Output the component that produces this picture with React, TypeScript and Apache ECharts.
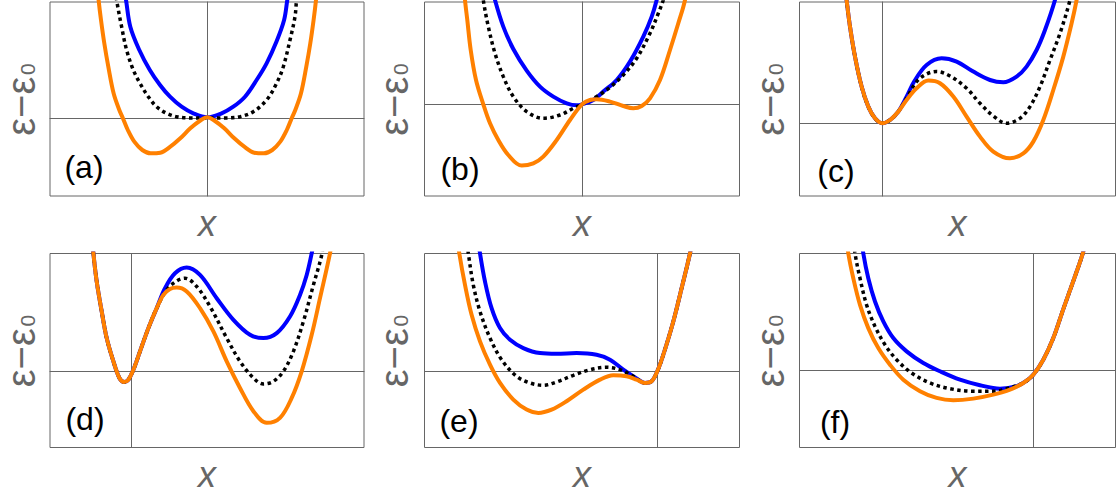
import React, { useEffect, useRef } from "react";
import * as echarts from "echarts";

// Panel labels
const panelLabels = ["(a)", "(b)", "(c)", "(d)", "(e)", "(f)"];

// Axis ranges (arbitrary units, origin at the crossing of the reference lines)
const xMin = [-15.73, -15.75, -8.28, -8.17, -23.28, -23.38];
const xMax = [15.67, 15.75, 23.32, 23.23, 8.22, 8.22];
const yMin = [-7.8, -9.17, -7.27, -7.67, -7.67, -7.77];
const yMax = [11.6, 10.23, 12.13, 11.78, 11.78, 11.68];

// (a)
const aBlue = [[-8.45, 13.5], [-8.13, 11.8], [-7.7, 9.13], [-6.8, 6.8], [-5.75, 4.8], [-4.73, 3.3], [-3.73, 2.13], [-2.57, 1.13], [-1.4, 0.47], [0, 0.07], [1.43, 0.47], [2.6, 1.13], [3.77, 2.13], [4.93, 3.8], [5.93, 5.47], [6.9, 7.6], [7.68, 9.8], [8.0, 11.8], [8.28, 13.5]];
const aBlack = [[-9.3, 13.5], [-9.07, 11.8], [-8.57, 9.13], [-8.07, 6.8], [-7.4, 4.8], [-6.73, 3.47], [-5.9, 2.13], [-5.07, 1.13], [-4.07, 0.47], [-3.07, 0.13], [-1.73, 0.01], [0, 0], [1.93, 0.01], [3.27, 0.13], [4.6, 0.63], [5.93, 1.8], [6.93, 3.47], [7.6, 5.13], [8.27, 7.8], [8.77, 10.13], [8.93, 11.8], [9.2, 13.5]];
const aOrange = [[-11.05, 13.8], [-10.87, 11.8], [-10.63, 9.8], [-10.3, 7.47], [-9.9, 5.13], [-9.37, 2.47], [-8.8, 0.8], [-8.45, 0], [-7.95, -1.2], [-7.3, -2.37], [-6.5, -3.2], [-5.67, -3.53], [-4.7, -3.47], [-3.7, -2.87], [-2.7, -2.03], [-1.7, -1.03], [-0.73, -0.27], [0, 0.07], [0.73, -0.27], [1.7, -1.03], [2.7, -2.03], [3.7, -2.87], [4.7, -3.47], [5.67, -3.53], [6.5, -3.2], [7.3, -2.37], [7.95, -1.2], [8.45, 0], [8.8, 0.8], [9.37, 2.47], [9.9, 5.13], [10.3, 7.47], [10.63, 9.8], [10.87, 11.8], [11.05, 13.8]];

// (b)
const bBlue = [[-9.2, 12.5], [-8.7, 10.43], [-7.87, 7.77], [-6.87, 5.53], [-5.53, 3.37], [-4.2, 1.77], [-2.87, 0.77], [-1.53, 0.1], [-0.53, -0.1], [0, 0], [1.13, 0.43], [2.13, 1.27], [3.47, 2.43], [4.8, 4.27], [6.13, 6.77], [6.97, 8.77], [7.47, 10.43], [7.8, 12]];
const bBlack = [[-10.1, 12.5], [-9.87, 10.43], [-9.37, 7.77], [-8.7, 5.1], [-7.87, 2.77], [-6.87, 0.77], [-5.53, -0.73], [-3.87, -1.4], [-2.2, -1.07], [-0.87, -0.4], [0, 0], [1.47, 0.77], [2.8, 1.7], [4.13, 2.93], [5.47, 4.6], [6.8, 7.1], [7.63, 9.1], [8.13, 10.43], [8.5, 12]];
const bOrange = [[-11.85, 12.5], [-11.7, 10.43], [-11.47, 8.43], [-11.13, 5.43], [-10.6, 2.43], [-9.87, 0], [-9.2, -1.9], [-8.37, -3.57], [-7.37, -5.07], [-6.03, -6.13], [-4.87, -5.9], [-3.87, -5.23], [-2.53, -3.57], [-1.2, -1.57], [0, 0], [0.8, 0.43], [1.47, 0.5], [2.8, 0.27], [4.13, -0.17], [5.13, -0.4], [5.97, -0.17], [6.8, 0.6], [7.8, 2.43], [8.8, 5.43], [9.63, 8.1], [10.3, 10.43], [10.55, 12.5]];

// (c)
const cLeft = [[-3.75, 14], [-3.57, 12.33], [-3.23, 9.67], [-2.73, 6.67], [-2.07, 3.67], [-1.4, 1.67], [-0.73, 0.5], [0, 0], [0.77, 0.33], [1.6, 1.17]];
const cBlue = [...cLeft, [2.43, 2.67], [3.2, 4.2], [4.43, 5.83], [5.93, 6.5], [7.43, 6.17], [9.1, 5.17], [10.77, 4.33], [12.1, 4.1], [13.43, 4.67], [14.43, 5.67], [15.43, 7.33], [16.27, 9.33], [17.27, 12.33], [17.6, 14]];
const cBlack = [...cLeft, [2.43, 2.5], [3.43, 4.17], [4.43, 4.93], [5.43, 5.17], [6.77, 4.73], [8.43, 3.5], [9.77, 2.0], [11.1, 0.73], [12.43, 0], [13.77, 0.5], [14.77, 1.67], [15.77, 3.67], [16.77, 6.33], [17.77, 9.0], [18.77, 12.33], [19.05, 14]];
const cOrange = [...cLeft, [2.43, 2.33], [3.43, 3.5], [4.6, 4.27], [5.77, 4.0], [7.1, 2.67], [8.43, 0.67], [9.77, -1.33], [11.1, -2.83], [12.77, -3.5], [14.1, -3.0], [15.1, -1.83], [16.1, 0.33], [17.1, 3.33], [18.1, 6.67], [18.93, 10], [19.43, 12.33], [19.7, 14]];

// (d)
const dLeft = [[-4.0, 14], [-3.83, 11.8], [-3.5, 8.97], [-3.0, 5.97], [-2.5, 3.3], [-1.83, 0.97], [-1.23, -0.7], [-0.77, -1.1], [-0.33, -0.87], [0.17, 0.13], [0.83, 1.97], [1.67, 4.3], [2.5, 6.3]];
const dBlue = [...dLeft, [3.33, 8.3], [4.33, 9.8], [5.5, 10.37], [6.83, 9.63], [8.5, 7.3], [10.17, 5.13], [11.83, 3.63], [13.17, 3.3], [14.5, 3.8], [15.83, 5.47], [16.83, 7.63], [17.5, 9.63], [18.0, 11.8], [18.3, 13.5]];
const dBlack = [...dLeft, [3.5, 8.13], [4.5, 9.03], [5.33, 9.3], [6.5, 8.47], [7.83, 6.47], [9.5, 3.3], [10.83, 0.97], [12.17, -0.7], [13.17, -1.3], [14.17, -1.03], [15.17, -0.03], [16.17, 1.97], [17.17, 4.97], [18.17, 8.63], [19.0, 11.63], [19.25, 13.5]];
const dOrange = [...dLeft, [3.17, 7.63], [3.83, 8.23], [4.5, 8.37], [5.5, 7.97], [6.83, 6.3], [8.17, 3.97], [9.5, 0.97], [10.83, -1.7], [12.17, -4.03], [13.5, -5.2], [14.83, -4.7], [16.0, -2.7], [17.0, -0.03], [18.0, 3.63], [18.83, 7.3], [19.83, 11.8], [20.1, 13.5]];

// (e)
const eRight = [[-1.23, -1.2], [-0.57, -1.03], [0, -0.03], [0.6, 1.63], [1.6, 4.97], [2.43, 8.3], [3.27, 11.8], [3.55, 13.5]];
const eBlue = [[-17.95, 13.5], [-17.73, 11.8], [-17.23, 8.97], [-16.57, 6.3], [-15.73, 4.3], [-14.73, 3.13], [-13.4, 2.3], [-11.73, 1.8], [-10.07, 1.73], [-8.07, 1.8], [-6.07, 1.63], [-4.73, 1.13], [-3.4, 0.13], [-2.07, -0.75], ...eRight];
const eBlack = [[-19.15, 13.5], [-18.9, 11.8], [-18.4, 8.63], [-17.73, 5.97], [-16.73, 3.3], [-15.57, 1.13], [-14.07, -0.53], [-12.73, -1.2], [-11.4, -1.43], [-10.07, -1.1], [-8.4, -0.43], [-6.73, 0.13], [-5.07, 0.37], [-3.73, 0.13], [-2.4, -0.53], ...eRight];
const eOrange = [[-20.0, 13.5], [-19.8, 11.8], [-19.23, 8.63], [-18.57, 5.63], [-17.73, 2.97], [-16.73, 0.63], [-15.73, -1.2], [-14.4, -2.87], [-13.07, -3.87], [-11.9, -4.2], [-10.57, -3.87], [-9.07, -3.03], [-7.4, -1.87], [-5.73, -0.87], [-4.4, -0.43], [-3.07, -0.53], [-2.07, -0.87], ...eRight];

// (f)
const fRight = [[0, -0.47], [1.0, 1.03], [2.0, 3.2], [3.0, 6.1], [4.1, 9.2], [4.95, 11.7], [5.35, 13.5]];
const fBlue = [[-17.2, 13.5], [-17.0, 11.7], [-16.5, 9.2], [-15.83, 6.87], [-15.0, 4.87], [-14.0, 3.2], [-12.67, 1.87], [-11.0, 0.7], [-9.33, -0.13], [-7.33, -0.97], [-5.33, -1.53], [-3.33, -1.87], [-1.67, -1.63], [-0.67, -1.07], ...fRight];
const fBlack = [[-18.0, 13.5], [-17.83, 11.7], [-17.33, 9.2], [-16.67, 6.53], [-15.83, 4.37], [-14.83, 2.53], [-13.67, 1.03], [-12.17, -0.3], [-10.33, -1.3], [-8.33, -1.87], [-6.0, -2.13], [-4.0, -2.13], [-2.67, -1.87], [-1.0, -1.3], ...fRight];
const fOrange = [[-18.7, 13.5], [-18.5, 11.7], [-18.0, 9.2], [-17.33, 6.53], [-16.5, 4.2], [-15.5, 2.2], [-14.33, 0.53], [-13.0, -0.97], [-11.33, -2.13], [-9.67, -2.8], [-8.0, -3.03], [-6.0, -2.87], [-4.0, -2.47], [-2.33, -1.97], [-1.0, -1.3], ...fRight];

const blueSets = [aBlue, bBlue, cBlue, dBlue, eBlue, fBlue];
const blackSets = [aBlack, bBlack, cBlack, dBlack, eBlack, fBlack];
const orangeSets = [aOrange, bOrange, cOrange, dOrange, eOrange, fOrange];

// layout (pixels)
const colLeft = [50, 424.5, 799.5];
const colWidth = [314, 315, 316];
const rowTop = [2, 253.5];
const rowHeight = 194;
const yLabelX = [24.5, 397.5, 773.3];
const panelLabelPos = [[84, 167], [460, 169], [836, 171], [85, 419], [459, 421], [835, 422]];

const FONT = "'Liberation Sans', Arial, sans-serif";
const GREY = "#666666";

function buildOption() {
  const grid: any[] = [];
  const xAxis: any[] = [];
  const yAxis: any[] = [];
  const series: any[] = [];
  const graphic: any[] = [];
  for (let i = 0; i < 6; i++) {
    const c = i % 3;
    const r = Math.floor(i / 3);
    grid.push({
      left: colLeft[c],
      top: rowTop[r],
      width: colWidth[c],
      height: rowHeight,
      show: true,
      borderColor: GREY,
      borderWidth: 1,
      backgroundColor: "transparent",
      containLabel: false,
    });
    const common = {
      type: "value",
      gridIndex: i,
      axisTick: { show: false },
      axisLabel: { show: false },
      splitLine: { show: false },
      axisLine: { show: true, onZero: true, lineStyle: { color: GREY, width: 1 } },
    };
    xAxis.push({ ...common, min: xMin[i], max: xMax[i] });
    yAxis.push({ ...common, min: yMin[i], max: yMax[i] });
    const base = {
      type: "line",
      xAxisIndex: i,
      yAxisIndex: i,
      showSymbol: false,
      symbol: "none",
      smooth: 0.35,
      clip: true,
      silent: true,
    };
    series.push({ ...base, data: blueSets[i], lineStyle: { color: "#0000ff", width: 4 } });
    series.push({ ...base, data: blackSets[i], lineStyle: { color: "#000000", width: 3.5, type: [3.5, 3.5], cap: "butt" } });
    series.push({ ...base, data: orangeSets[i], lineStyle: { color: "#ff8000", width: 4 } });

    // panel label
    graphic.push({
      type: "text",
      x: panelLabelPos[i][0],
      y: panelLabelPos[i][1],
      style: { text: panelLabels[i], fill: "#000", font: `32px ${FONT}`, align: "center", verticalAlign: "middle" },
    });
    // x label
    const cx = colLeft[c] + colWidth[c] / 2;
    graphic.push({
      type: "text",
      x: cx,
      y: rowTop[r] + 221,
      style: { text: "x", fill: GREY, font: `italic 36px ${FONT}`, align: "center", verticalAlign: "middle" },
    });
    // y label
    graphic.push({
      type: "group",
      x: yLabelX[c],
      y: rowTop[r] + 94.5,
      rotation: Math.PI / 2,
      children: [
        { type: "text", x: 19.8, y: -3.5, style: { text: "ε−ε", fill: GREY, font: `40px ${FONT}`, align: "right", verticalAlign: "middle" } },
        { type: "text", x: 21.5, y: 2.5, style: { text: "0", fill: GREY, font: `21px ${FONT}`, align: "left", verticalAlign: "middle" } },
      ],
    });
  }
  return { animation: false, backgroundColor: "#ffffff", grid, xAxis, yAxis, series, graphic };
}

export default function App() {
  const ref = useRef<HTMLDivElement>(null);
  useEffect(() => {
    if (!ref.current) return;
    const chart = echarts.init(ref.current, null, { renderer: "svg" });
    chart.setOption(buildOption() as any);
    return () => chart.dispose();
  }, []);
  return <div ref={ref} style={{ position: "absolute", left: 0, top: 0, width: 1117, height: 500 }} />;
}
